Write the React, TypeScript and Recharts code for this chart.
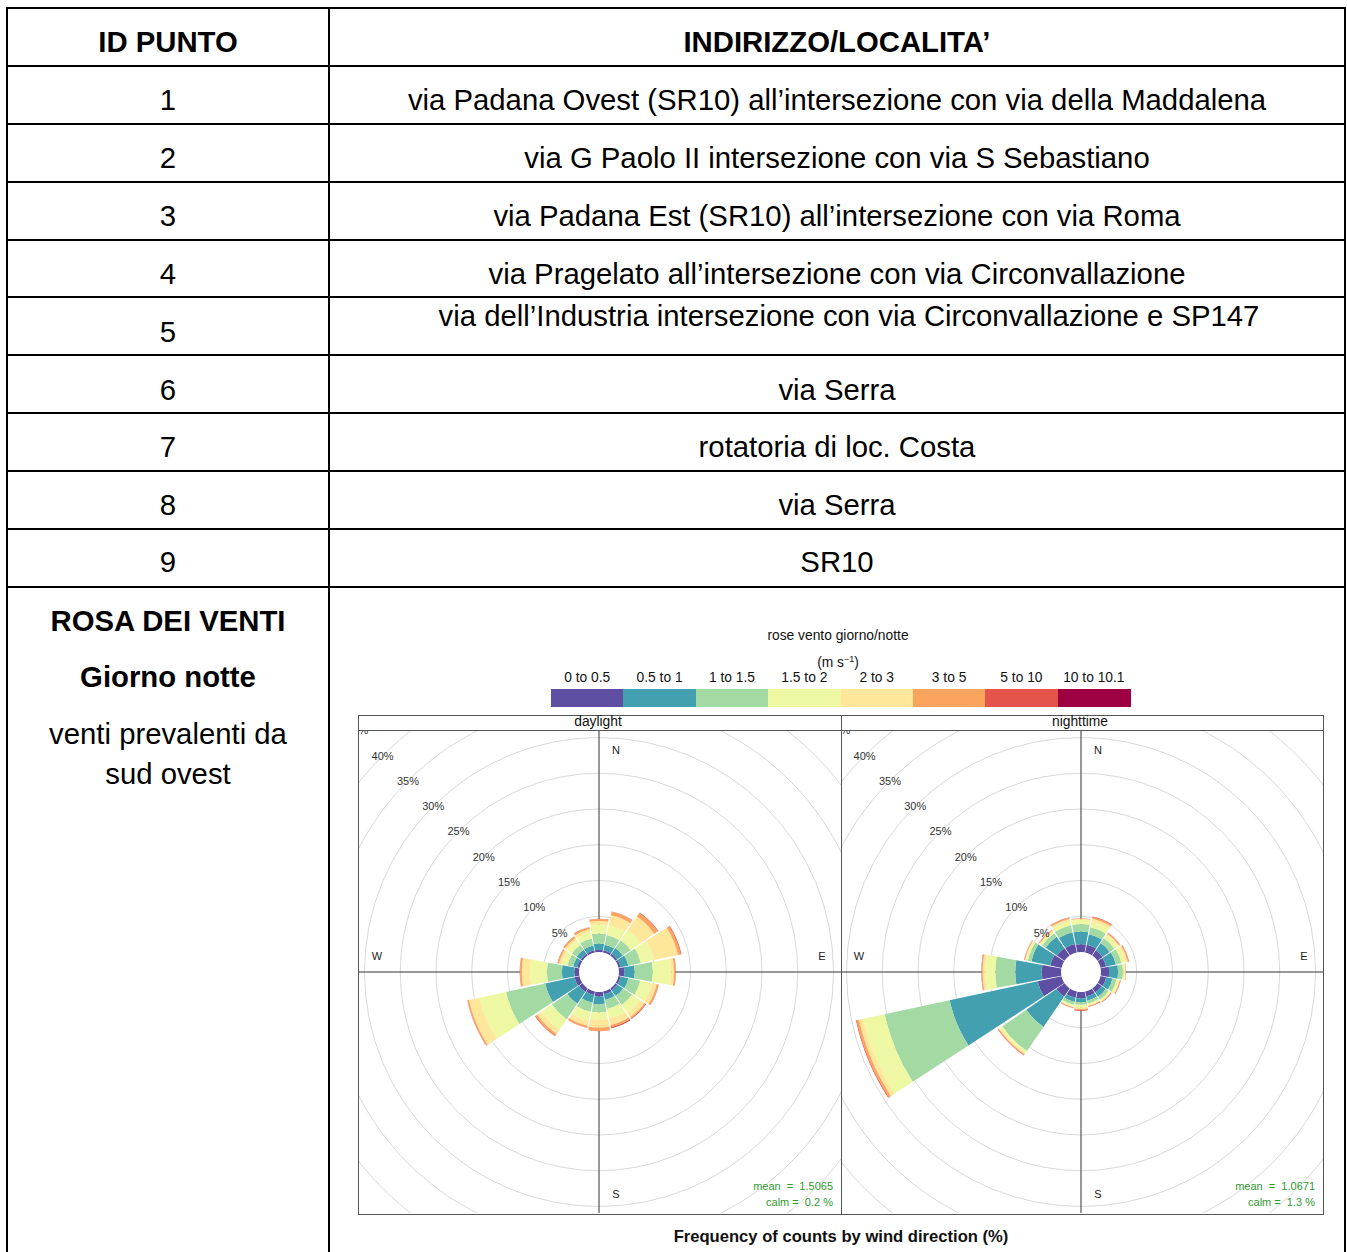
import {
  RadialBarChart,
  RadialBar,
  PolarAngleAxis,
  PolarRadiusAxis,
  PolarGrid,
} from "recharts";

const FONT = '"Liberation Sans", Arial, sans-serif';

const ids = ["1", "2", "3", "4", "5", "6", "7", "8", "9"];
const addresses = [
  "via Padana Ovest (SR10) all\u2019intersezione con via della Maddalena",
  "via G Paolo II intersezione con via S Sebastiano",
  "via Padana Est (SR10) all\u2019intersezione con via Roma",
  "via Pragelato all\u2019intersezione con via Circonvallazione",
  "via dell\u2019Industria intersezione con via Circonvallazione e SP147",
  "via Serra",
  "rotatoria di loc. Costa",
  "via Serra",
  "SR10",
];

const directions = ["N", "NNE", "NE", "ENE", "E", "ESE", "SE", "SSE", "S", "SSW", "SW", "WSW", "W", "WNW", "NW", "NNW"];
const speedBins = ["0 to 0.5", "0.5 to 1", "1 to 1.5", "1.5 to 2", "2 to 3", "3 to 5", "5 to 10", "10 to 10.1"];
const binColors = ["#5E4FA2", "#42A0B1", "#A3D9A3", "#EEF7A2", "#FEE69A", "#FBA45E", "#E5544A", "#9E0142"];
const ringTicks = [5, 10, 15, 20, 25, 30, 35, 40, 45];

// cumulative % at the top of each speed bin, per direction
const dayCum = [
  [0.3, 1.2, 2.6, 3.8, 4.35, 4.6, 4.65, 4.65],
  [0.3, 1.1, 2.5, 3.9, 5.3, 5.8, 5.85, 5.85],
  [0.3, 1.25, 2.6, 4.3, 6.6, 7.2, 7.3, 7.3],
  [0.3, 1.4, 3.2, 5.1, 8.5, 8.9, 9.0, 9.0],
  [0.75, 2.2, 4.75, 7.3, 7.7, 7.9, 7.95, 7.95],
  [0.3, 1.4, 3.1, 4.75, 5.45, 5.7, 5.75, 5.75],
  [0.3, 1.3, 2.8, 4.2, 4.9, 5.1, 5.2, 5.2],
  [0.4, 1.2, 2.5, 3.9, 4.8, 5.1, 5.25, 5.25],
  [0.65, 1.7, 2.85, 3.9, 5.0, 5.45, 5.5, 5.5],
  [0.5, 1.6, 2.9, 4.2, 4.9, 5.15, 5.2, 5.2],
  [0.6, 2.6, 5.2, 7.0, 7.7, 8.0, 8.1, 8.1],
  [0.7, 4.9, 10.5, 14.3, 15.8, 16.0, 16.05, 16.05],
  [0.65, 2.4, 4.5, 6.85, 8.0, 8.25, 8.3, 8.3],
  [0.3, 0.9, 1.7, 2.5, 2.9, 3.1, 3.15, 3.15],
  [0.3, 1.0, 1.8, 2.6, 3.0, 3.25, 3.3, 3.3],
  [0.3, 1.0, 2.0, 2.9, 3.35, 3.6, 3.65, 3.65],
];

const nightCum = [
  [1.1, 2.85, 3.9, 4.5, 4.65, 4.7, 4.72, 4.72],
  [1.1, 2.6, 3.6, 4.4, 4.8, 5.05, 5.15, 5.15],
  [0.9, 2.1, 2.9, 3.5, 3.7, 3.85, 3.9, 3.9],
  [0.8, 2.2, 3.0, 3.6, 3.9, 4.05, 4.1, 4.1],
  [1.15, 2.4, 3.1, 3.35, 3.45, 3.5, 3.52, 3.52],
  [0.8, 1.7, 2.3, 2.6, 2.75, 2.85, 2.9, 2.9],
  [0.7, 1.4, 1.9, 2.15, 2.25, 2.35, 2.4, 2.4],
  [0.7, 1.3, 1.7, 1.95, 2.05, 2.15, 2.2, 2.2],
  [0.9, 1.45, 1.8, 2.15, 2.4, 2.55, 2.65, 2.65],
  [0.9, 1.5, 1.9, 2.15, 2.25, 2.35, 2.4, 2.4],
  [1.4, 6.5, 10.6, 11.0, 11.15, 11.28, 11.35, 11.35],
  [3.4, 16.0, 25.3, 28.35, 28.95, 29.3, 29.4, 29.4],
  [2.7, 6.4, 9.2, 10.6, 10.95, 11.1, 11.15, 11.15],
  [1.6, 4.3, 4.8, 5.1, 5.2, 5.3, 5.35, 5.35],
  [1.3, 3.2, 3.8, 4.1, 4.25, 4.35, 4.4, 4.4],
  [1.2, 2.9, 3.9, 4.5, 4.8, 4.95, 5.0, 5.0],
];

function buildRows(cum: number[][]) {
  return directions.map((dir, i) => {
    const row: any = { dir };
    cum[i].forEach((v, k) => {
      row["s" + k] = +(v - (k > 0 ? cum[i][k - 1] : 0)).toFixed(3);
    });
    return row;
  });
}

const RingTick = (props: any) => {
  const { x, y, payload } = props;
  return (
    <text x={x} y={y} textAnchor="middle" dominantBaseline="central" fontSize={11} fill="#333" fontFamily={FONT}>
      {payload.value}%
    </text>
  );
};

const Txt = ({ x, y, children, size = 29.3, bold = false, anchor = "center", color = "#000" }: any) => {
  const w = 1000;
  const left = anchor === "center" ? x - w / 2 : anchor === "right" ? x - w : x;
  return (
    <div
      style={{
        position: "absolute",
        left,
        top: y - size * 0.6,
        width: w,
        height: size * 1.2,
        lineHeight: size * 1.2 + "px",
        fontSize: size,
        fontWeight: bold ? "bold" : "normal",
        textAlign: anchor as any,
        color,
        fontFamily: FONT,
        whiteSpace: "pre",
      }}
    >
      {children}
    </div>
  );
};

const Line = ({ x, y, w, h, color = "#000" }: any) => (
  <div style={{ position: "absolute", left: x, top: y, width: w, height: h, background: color }} />
);

function RosePanel({ data, left, width, cx, mean, calm }: any) {
  const inner = 20;
  const outer = 20 + 7.15 * 45;
  const c = left + cx;
  return (
    <>
      <div style={{ position: "absolute", left, top: 731, width, height: 482, overflow: "hidden" }}>
        <RadialBarChart
          width={width}
          height={482}
          cx={cx}
          cy={241}
          data={data}
          layout="centric"
          innerRadius={inner}
          outerRadius={outer}
          startAngle={78.75}
          endAngle={-281.25}
          barCategoryGap="4%"
          margin={{ top: 0, right: 0, bottom: 0, left: 0 }}
        >
          <PolarGrid gridType="circle" radialLines={false} stroke="#d9d9d9" />
          <PolarGrid gridType="circle" polarAngles={[0, 90, 180, 270]} polarRadius={[0]} stroke="#333" />
          <PolarAngleAxis type="category" dataKey="dir" tick={false} axisLine={false} tickLine={false} />
          <PolarRadiusAxis
            type="number"
            domain={[0, 45]}
            ticks={ringTicks}
            angle={135}
            axisLine={false}
            tickLine={false}
            tick={<RingTick />}
            allowDataOverflow
          />
          {speedBins.map((b, k) => (
            <RadialBar key={b} dataKey={"s" + k} stackId="a" fill={binColors[k]} isAnimationActive={false} />
          ))}
        </RadialBarChart>
      </div>
      <Txt x={c + 17} y={751} size={11} color="#222">N</Txt>
      <Txt x={c + 223} y={957} size={11} color="#222">E</Txt>
      <Txt x={c + 17} y={1195} size={11} color="#222">S</Txt>
      <Txt x={c - 222} y={957} size={11} color="#222">W</Txt>
      <Txt x={left + width - 8} y={1187} size={11} anchor="right" color="#2f9a2f">
        {"mean  =  " + mean}
      </Txt>
      <Txt x={left + width - 8} y={1203} size={11} anchor="right" color="#2f9a2f">
        {"calm =  " + calm + " %"}
      </Txt>
    </>
  );
}

export default function App() {
  const rowLines = [8, 66, 124, 182, 240, 297, 355, 413, 471, 529, 587];
  const dayRows = buildRows(dayCum);
  const nightRows = buildRows(nightCum);
  const segW = (1130 - 551) / speedBins.length;

  return (
    <div style={{ position: "absolute", left: 0, top: 0, width: 1347, height: 1252, overflow: "hidden", background: "#fff" }}>
      {/* table grid */}
      {rowLines.map((y) => (
        <Line key={y} x={6} y={y - 1} w={1340} h={2} />
      ))}
      <Line x={6} y={7} w={2} h={1250} />
      <Line x={1344} y={7} w={2} h={1250} />
      <Line x={328} y={7} w={2} h={1250} />

      <Txt x={168} y={42} bold>ID PUNTO</Txt>
      <Txt x={837} y={42} bold>{"INDIRIZZO/LOCALITA\u2019"}</Txt>
      {ids.map((id, i) => (
        <Txt key={id} x={168} y={100 + i * 58 - (i >= 5 ? 0.5 * (i - 4) : 0)}>{id}</Txt>
      ))}
      {addresses.map((a, i) => (
        <Txt key={i} x={i === 4 ? 849 : 837} y={i === 4 ? 316 : 100 + i * 58 - (i >= 5 ? 0.5 * (i - 4) : 0)}>{a}</Txt>
      ))}

      <Txt x={168} y={621} bold>ROSA DEI VENTI</Txt>
      <Txt x={168} y={677} bold>Giorno notte</Txt>
      <Txt x={168} y={734}>venti prevalenti da</Txt>
      <Txt x={168} y={774}>sud ovest</Txt>

      {/* chart header and legend */}
      <Txt x={838} y={636} size={13.8} color="#111">rose vento giorno/notte</Txt>
      <Txt x={838} y={659} size={13.8} color="#111">
        <span>
          (m s<sup style={{ fontSize: 9, verticalAlign: "5px" }}>{"\u22121"}</sup>)
        </span>
      </Txt>
      {speedBins.map((b, k) => (
        <div key={b}>
          <Txt x={551 + segW * (k + 0.5)} y={678} size={13.8} color="#111">{b}</Txt>
          <div style={{ position: "absolute", left: 551 + segW * k, top: 689, width: segW + 0.5, height: 18, background: binColors[k] }} />
        </div>
      ))}

      {/* panels */}
      <RosePanel data={dayRows} left={359} width={482} cx={240} mean="1.5065" calm="0.2" />
      <RosePanel data={nightRows} left={842} width={481} cx={239} mean="1.0671" calm="1.3" />

      <div style={{ position: "absolute", left: 358, top: 715, width: 964, height: 498, border: "1px solid #555" }} />
      <Line x={358} y={730} w={966} h={1} color="#555" />
      <Line x={841} y={715} w={1} h={499} color="#555" />
      <Txt x={598} y={722} size={13.8} color="#111">daylight</Txt>
      <Txt x={1080} y={722} size={13.8} color="#111">nighttime</Txt>

      <Txt x={841} y={1237} size={16.6} bold color="#111">Frequency of counts by wind direction (%)</Txt>
    </div>
  );
}
